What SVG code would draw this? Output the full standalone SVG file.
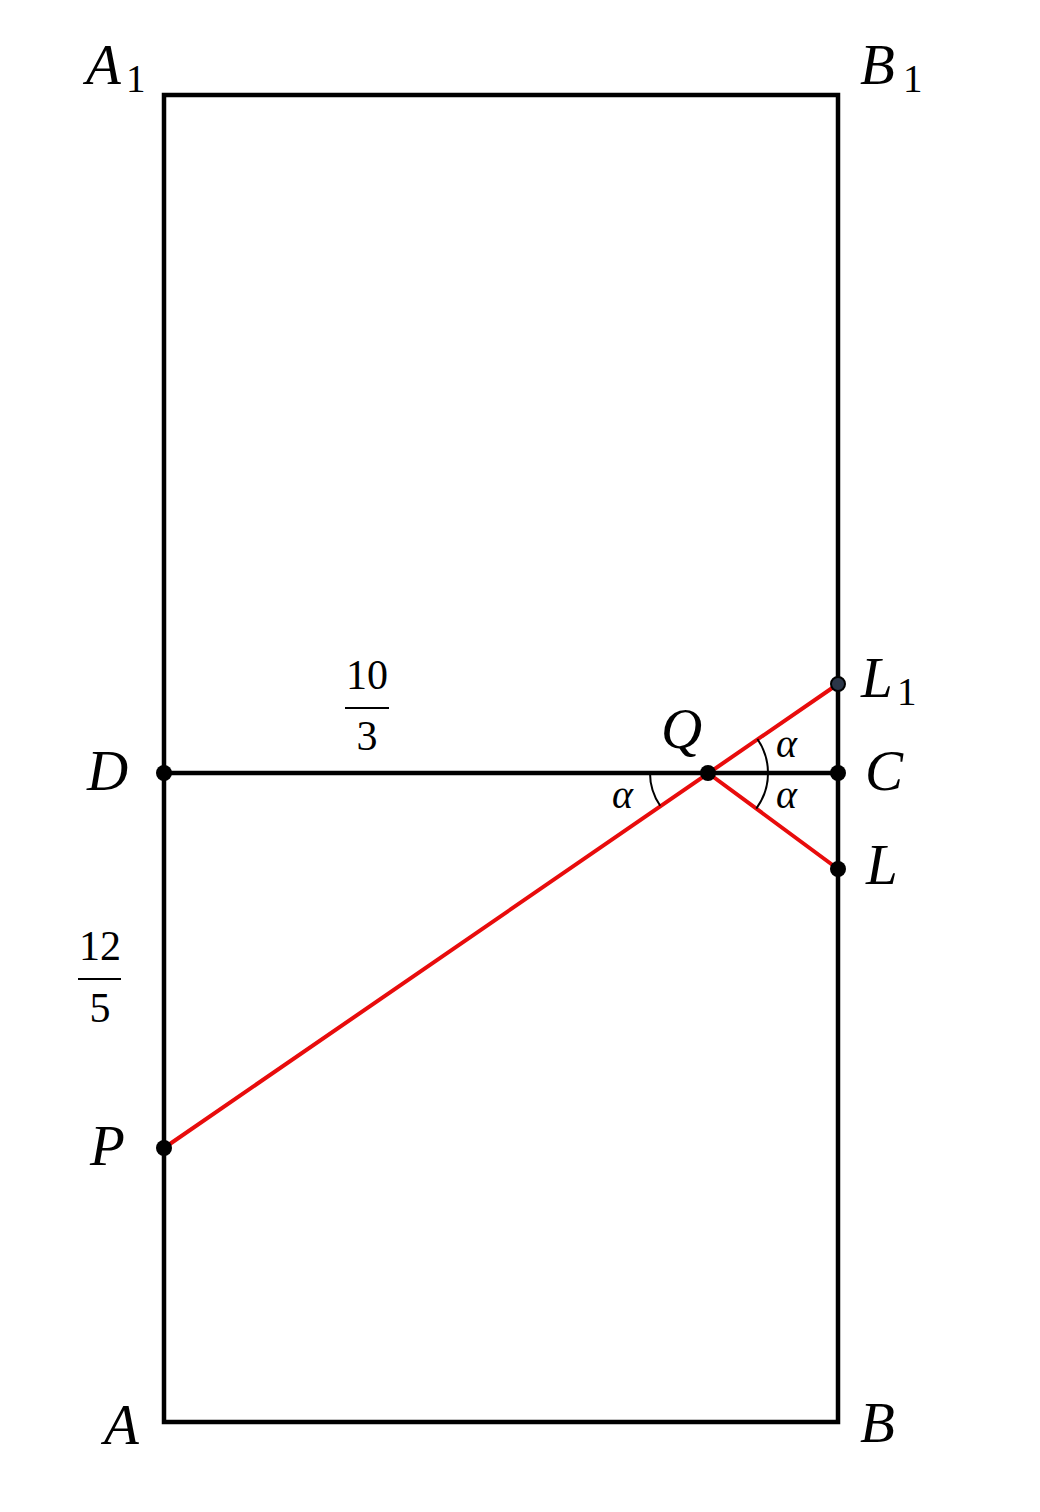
<svg xmlns="http://www.w3.org/2000/svg" width="1040" height="1512" viewBox="0 0 1040 1512">
<style>
.edge{stroke:#000;stroke-width:4.5;fill:none;stroke-linecap:square}
.red{stroke:#e80c0c;stroke-width:4;fill:none;stroke-linecap:round}
.arc{stroke:#000;stroke-width:2;fill:none}
.dot{fill:#000}
.lbl{font-family:"Liberation Serif","DejaVu Serif",serif;font-style:italic;font-size:57px;fill:#000}
.sub{font-family:"Liberation Serif","DejaVu Serif",serif;font-size:39px;fill:#000}
.num{font-family:"Liberation Serif","DejaVu Serif",serif;font-size:42px;fill:#000;text-anchor:middle}
.alpha{font-family:"Liberation Serif","DejaVu Serif",serif;font-style:italic;font-size:40px;fill:#000}
</style>
<rect width="1040" height="1512" fill="#fff"/>
<g id="connectors">
<rect class="edge" x="164" y="95" width="674" height="1327"/>
<line class="edge" x1="164" y1="773" x2="838" y2="773"/>
<line class="red" x1="164" y1="1148" x2="838" y2="684"/>
<line class="red" x1="708" y1="773" x2="838" y2="869"/>
<path class="arc" d="M768 773 A60 60 0 0 0 757.4 739"/>
<path class="arc" d="M768 773 A60 60 0 0 1 756.3 808.6"/>
<path class="arc" d="M650 773 A58 58 0 0 0 660.2 805.8"/>
</g>
<g id="A1"><text class="lbl" x="86" y="84">A</text><text class="sub" x="126" y="92">1</text></g>
<g id="B1"><text class="lbl" x="860" y="84">B</text><text class="sub" x="903" y="92">1</text></g>
<g id="A"><text class="lbl" x="104" y="1444">A</text></g>
<g id="B"><text class="lbl" x="860" y="1442">B</text></g>
<g id="D"><circle class="dot" cx="164" cy="773" r="8"/><text class="lbl" x="87" y="790">D</text></g>
<g id="C"><circle class="dot" cx="838" cy="773" r="8"/><text class="lbl" x="865" y="790">C</text></g>
<g id="Q"><circle class="dot" cx="708" cy="773" r="8"/><text class="lbl" x="661" y="748">Q</text></g>
<g id="L1"><circle cx="838" cy="684" r="7" fill="#2b3648" stroke="#000" stroke-width="2"/><text class="lbl" x="861" y="697">L</text><text class="sub" x="897" y="705">1</text></g>
<g id="L"><circle class="dot" cx="838" cy="869" r="8"/><text class="lbl" x="866" y="884">L</text></g>
<g id="P"><circle class="dot" cx="164" cy="1148" r="8"/><text class="lbl" x="90" y="1165">P</text></g>
<g id="alphas">
<text class="alpha" x="776" y="757">α</text>
<text class="alpha" x="776" y="808">α</text>
<text class="alpha" x="612" y="808">α</text>
</g>
<g id="frac-10-3"><text class="num" x="367" y="689">10</text><line x1="345" y1="708" x2="389" y2="708" stroke="#000" stroke-width="2"/><text class="num" x="367" y="750">3</text></g>
<g id="frac-12-5"><text class="num" x="100" y="960">12</text><line x1="78" y1="979" x2="121" y2="979" stroke="#000" stroke-width="2"/><text class="num" x="100" y="1022">5</text></g>
</svg>
